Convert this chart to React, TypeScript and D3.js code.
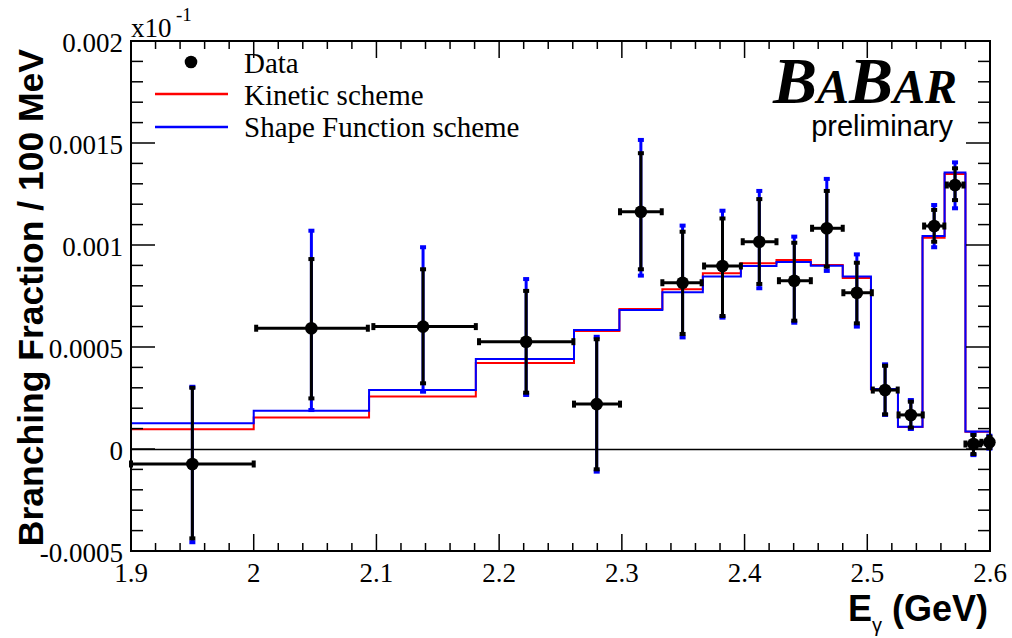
import React from "react";
import * as d3 from "d3";

// ---- Data ----
const binEdges = [1.9, 2.0, 2.094, 2.181, 2.261, 2.298, 2.333, 2.366, 2.397, 2.426, 2.454, 2.48, 2.503, 2.525, 2.545, 2.563, 2.58, 2.6];
const kinetic = [0.0000965, 0.000154, 0.000257, 0.000422, 0.000578, 0.000686, 0.000783, 0.000861, 0.00091, 0.000926, 0.000902, 0.000838, 0.000292, 0.000108, 0.001036, 0.001348, 0.000085];
const shapeFunction = [0.000126, 0.000188, 0.000289, 0.000441, 0.000583, 0.000681, 0.000768, 0.000845, 0.000897, 0.000917, 0.000898, 0.000845, 0.000294, 0.000109, 0.001044, 0.001356, 0.000086];

const dataE = [1.95, 2.047, 2.138, 2.222, 2.2795, 2.3155, 2.3495, 2.382, 2.412, 2.4405, 2.467, 2.4915, 2.5145, 2.5355, 2.5545, 2.5715, 2.5865, 2.5995];
const dataELow = [1.9, 2.002, 2.0975, 2.1836, 2.261, 2.2985, 2.333, 2.367, 2.3985, 2.428, 2.455, 2.4805, 2.5045, 2.5255, 2.5463, 2.5648, 2.58, 2.593];
const dataEHigh = [2.0, 2.093, 2.181, 2.2605, 2.2985, 2.3325, 2.365, 2.397, 2.426, 2.454, 2.48, 2.5037, 2.5248, 2.5452, 2.5628, 2.5784, 2.592, 2.6];
const dataBF = [-0.0000735, 0.000592, 0.0006, 0.000526, 0.00022, 0.001163, 0.000815, 0.000897, 0.001016, 0.000825, 0.001082, 0.000766, 0.000289, 0.000167, 0.001093, 0.001294, 0.0000245, 0.0000328];
const statHigh = [0.0003, 0.000931, 0.000881, 0.000775, 0.000538, 0.00145, 0.001065, 0.00113, 0.001225, 0.001011, 0.001265, 0.000913, 0.000408, 0.000232, 0.001172, 0.001376, 0.0000686, 0.00006];
const statLow = [-0.000438, 0.000248, 0.000322, 0.000276, -0.0000995, 0.000881, 0.000564, 0.000652, 0.000809, 0.000629, 0.000894, 0.000616, 0.00017, 0.000105, 0.001016, 0.00122, -0.0000245, 0.000005];
const totalHigh = [0.000305, 0.00107, 0.000989, 0.000833, 0.00055, 0.001515, 0.001095, 0.001168, 0.001265, 0.001041, 0.001324, 0.000954, 0.000415, 0.00024, 0.001196, 0.001405, 0.000075, 0.000065];
const totalLow = [-0.000457, 0.000191, 0.000281, 0.000265, -0.000111, 0.00085, 0.000547, 0.000644, 0.000788, 0.000619, 0.000873, 0.0006, 0.000167, 0.000098, 0.000989, 0.00118, -0.00003, 0.000002];

const xTickLabels = ["1.9", "2", "2.1", "2.2", "2.3", "2.4", "2.5", "2.6"];
const yTickLabels = ["-0.0005", "0", "0.0005", "0.001", "0.0015", "0.002"];
const legendLabels = ["Data", "Kinetic scheme", "Shape Function scheme"];

// ---- Layout ----
const W = 1012, H = 638;
const L = 131, R = 990, T = 41, B = 551;
const SERIF = "'Liberation Serif', 'Times New Roman', Times, serif";
const SANS = "'Liberation Sans', Arial, Helvetica, sans-serif";
const RED = "#ff0000";
const BLUE = "#0000ff";

export default function App() {
  const x = d3.scaleLinear().domain([1.9, 2.6]).range([L, R]);
  const y = d3.scaleLinear().domain([-0.0005, 0.002]).range([B, T]);

  const step = d3.line<[number, number]>().x((d) => x(d[0])).y((d) => y(d[1])).curve(d3.curveStepAfter);
  const histPts = (vals: number[]) => {
    const pts: [number, number][] = vals.map((v, i) => [binEdges[i], v]);
    pts.push([binEdges[binEdges.length - 1], vals[vals.length - 1]]);
    return pts;
  };

  const xMinor = d3.range(0, 36).map((i) => 1.9 + i * 0.02);
  const yMinor = d3.range(0, 26).map((i) => -0.0005 + i * 0.0001);
  const isMajorX = (v: number) => Math.abs(v * 10 - Math.round(v * 10)) < 1e-6;
  const isMajorY = (v: number) => Math.abs(v / 0.0005 - Math.round(v / 0.0005)) < 1e-6;
  const xMajorVals = xTickLabels.map((s) => +s);
  const yMajorVals = yTickLabels.map((s) => +s);

  return (
    <svg width={W} height={H} style={{ position: "absolute", left: 0, top: 0, background: "#fff" }}>
      <defs>
        <clipPath id="frameClip">
          <rect x={L} y={T} width={R - L} height={B - T} />
        </clipPath>
      </defs>
      <rect x={0} y={0} width={W} height={H} fill="#fff" />

      {/* histograms */}
      <g clipPath="url(#frameClip)" fill="none" strokeWidth={2}>
        <path d={step(histPts(kinetic)) || ""} stroke={RED} />
        <path d={step(histPts(shapeFunction)) || ""} stroke={BLUE} />
      </g>

      {/* zero line */}
      <line x1={L} x2={R} y1={Math.round(y(0)) + 0.5} y2={Math.round(y(0)) + 0.5} stroke="#000" strokeWidth={1.3} />

      {/* data error bars */}
      <g>
        {dataE.map((e, i) => (
          <g key={"tot" + i}>
            <line x1={x(e)} x2={x(e)} y1={y(totalLow[i])} y2={y(totalHigh[i])} stroke={BLUE} strokeWidth={3} />
            <rect x={x(e) - 3} y={y(totalLow[i]) - 2} width={6} height={4} fill={BLUE} />
            <rect x={x(e) - 3} y={y(totalHigh[i]) - 2} width={6} height={4} fill={BLUE} />
          </g>
        ))}
        {dataE.map((e, i) => (
          <g key={"stat" + i}>
            <line x1={x(e)} x2={x(e)} y1={y(statLow[i])} y2={y(statHigh[i])} stroke="#000" strokeWidth={3} />
            <rect x={x(e) - 3} y={y(statLow[i]) - 2} width={6} height={4} fill="#000" />
            <rect x={x(e) - 3} y={y(statHigh[i]) - 2} width={6} height={4} fill="#000" />
            <line x1={x(dataELow[i])} x2={x(dataEHigh[i])} y1={y(dataBF[i])} y2={y(dataBF[i])} stroke="#000" strokeWidth={3} />
            <rect x={x(dataELow[i]) - 2} y={y(dataBF[i]) - 3.5} width={4} height={7} fill="#000" />
            <rect x={x(dataEHigh[i]) - 2} y={y(dataBF[i]) - 3.5} width={4} height={7} fill="#000" />
            <circle cx={x(e)} cy={y(dataBF[i])} r={6.3} fill="#000" />
          </g>
        ))}
      </g>

      {/* frame */}
      <rect x={L} y={T} width={R - L} height={B - T} fill="none" stroke="#000" strokeWidth={2} />

      {/* ticks */}
      <g stroke="#000" strokeWidth={1.5}>
        {xMinor.map((v, i) => {
          const len = isMajorX(v) ? 17 : 8;
          return (
            <g key={"xt" + i}>
              <line x1={x(v)} x2={x(v)} y1={B} y2={B - len} />
              <line x1={x(v)} x2={x(v)} y1={T} y2={T + len} />
            </g>
          );
        })}
        {yMinor.map((v, i) => {
          const len = isMajorY(v) ? 24 : 12;
          return (
            <g key={"yt" + i}>
              <line x1={L} x2={L + len} y1={y(v)} y2={y(v)} />
              <line x1={R} x2={R - len} y1={y(v)} y2={y(v)} />
            </g>
          );
        })}
      </g>

      {/* tick labels */}
      <g fontFamily={SERIF} fontSize={27} fill="#000">
        {xMajorVals.map((v, i) => (
          <text key={"xl" + i} x={x(v)} y={582} textAnchor="middle">{xTickLabels[i]}</text>
        ))}
        {yMajorVals.map((v, i) => (
          <text key={"yl" + i} x={123} y={y(v) + 11} textAnchor="end">{yTickLabels[i]}</text>
        ))}
        <text x={131} y={37} fontSize={27}>x10</text>
        <text x={176} y={21} fontSize={19}>-1</text>
      </g>

      {/* axis titles */}
      <text transform={`translate(43,49) rotate(-90)`} textAnchor="end" fontFamily={SANS} fontWeight="bold" fontSize={35.5} fill="#000">
        Branching Fraction / 100 MeV
      </text>
      <text x={988} y={621} textAnchor="end" fontFamily={SANS} fontWeight="bold" fontSize={36} fill="#000">
        E<tspan fontSize={20} fontWeight="normal" dy={11}>γ</tspan><tspan dy={-11}> (GeV)</tspan>
      </text>

      {/* legend */}
      <g fontFamily={SERIF} fontSize={29} fill="#000">
        <circle cx={191} cy={62} r={6.3} fill="#000" />
        <text x={244} y={73}>{legendLabels[0]}</text>
        <line x1={155} x2={228} y1={94} y2={94} stroke={RED} strokeWidth={2.5} />
        <text x={244} y={105}>{legendLabels[1]}</text>
        <line x1={155} x2={228} y1={127} y2={127} stroke={BLUE} strokeWidth={2.5} />
        <text x={244} y={137}>{legendLabels[2]}</text>
      </g>

      {/* BaBar logo */}
      <text x={957} y={103} textAnchor="end" fontFamily={SERIF} fontWeight="bold" fontStyle="italic" fill="#000">
        <tspan fontSize={66}>B</tspan><tspan fontSize={48}>A</tspan><tspan fontSize={66}>B</tspan><tspan fontSize={48}>AR</tspan>
      </text>
      <text x={953} y={136} textAnchor="end" fontFamily={SANS} fontSize={29} fill="#000">preliminary</text>
    </svg>
  );
}
